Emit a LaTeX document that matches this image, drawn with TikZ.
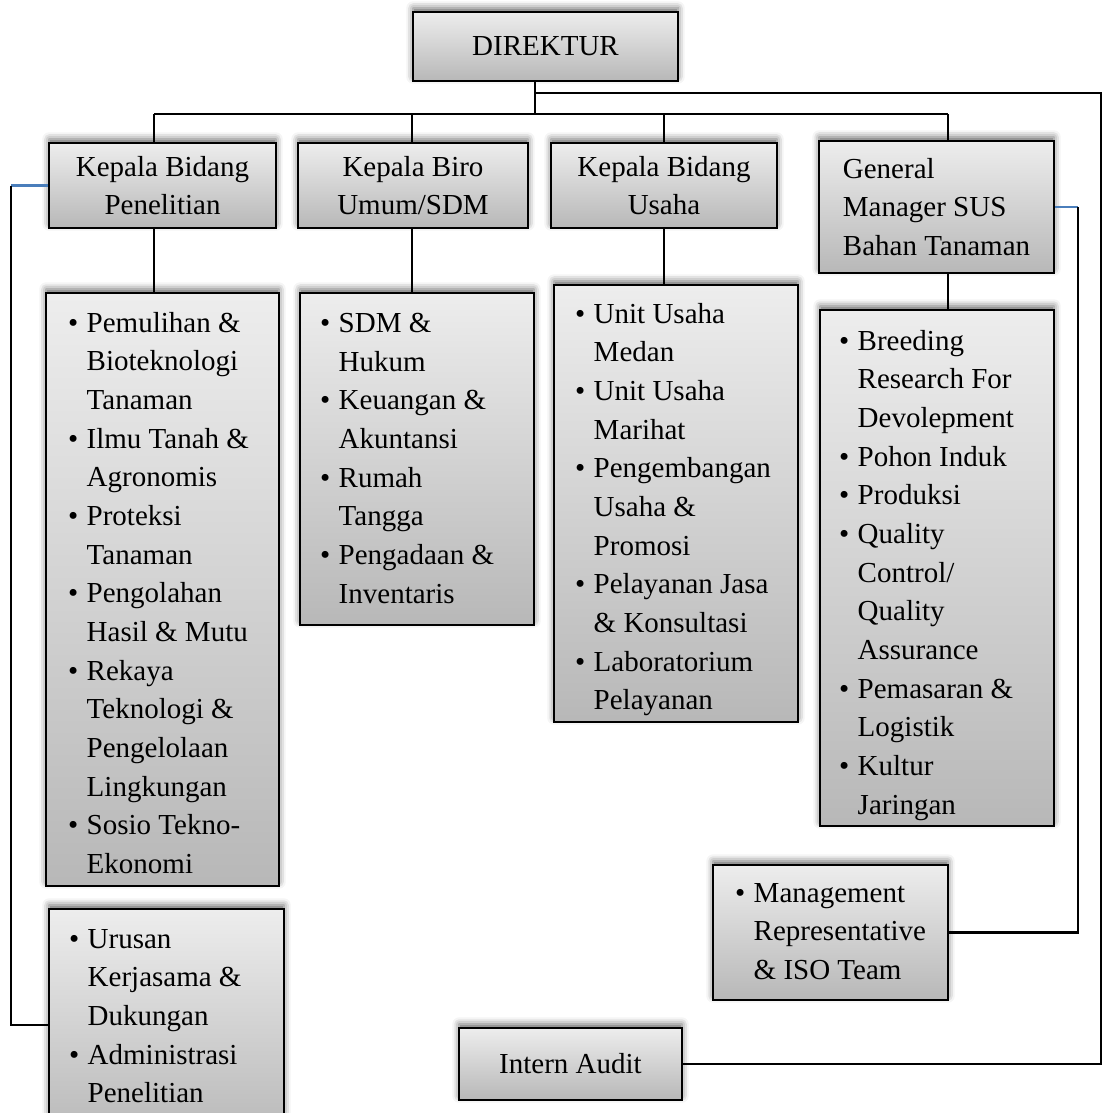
\documentclass[tikz,border=0pt]{standalone}
\usepackage{fontspec}
\setmainfont{Liberation Serif}
\usetikzlibrary{shadows.blur}
\definecolor{linkblue}{RGB}{74,126,187}
\newcommand{\orgfont}{\fontsize{21.75}{29}\selectfont}
\newcommand{\itemdot}{\makebox[14pt][l]{\textbullet}}
\newcommand{\itemind}{\hspace*{14pt}}

\tikzset{every picture/.style={line width=1.6pt}}
\tikzset{
  unit/.style={draw=black, line width=1.5pt, top color=black!7, bottom color=black!28,
    blur shadow={shadow xshift=0pt, shadow yshift=3pt, shadow blur radius=5pt, shadow opacity=60},
    inner sep=0pt, align=center, font=\orgfont},
  items/.style={anchor=north west, inner sep=0pt, align=left, font=\orgfont}
}

\begin{document}
\begin{tikzpicture}[x=0.75pt,y=0.75pt,yscale=-1,xscale=1]
        \useasboundingbox (0,0) rectangle (1103,1113);
        \clip (0,0) rectangle (1103,1113);
        \node[unit, minimum width=198.75pt, minimum height=51.75pt] (dir) at (545.5,46.5) {DIREKTUR};
        \node[unit, minimum width=170.25pt, minimum height=63.75pt] (pen) at (162.5,185.5) {Kepala Bidang\\Penelitian};
        \node[unit, minimum width=172.5pt, minimum height=63.75pt] (biro) at (413,185.5) {Kepala Biro\\Umum/SDM};
        \node[unit, minimum width=169.5pt, minimum height=63.75pt] (usaha) at (664,185.5) {Kepala Bidang\\Usaha};
        \node[unit, minimum width=176.25pt, minimum height=99pt, align=left] (gm) at (936.5,207) {General\\Manager SUS\\Bahan Tanaman};
        \node[unit, minimum width=174.75pt, minimum height=444.75pt] (pen-l) at (162.5,589.5) {};
        \node[unit, minimum width=175.5pt, minimum height=249pt] (biro-l) at (417,459) {};
        \node[unit, minimum width=183pt, minimum height=327.75pt] (usaha-l) at (676,503.5) {};
        \node[unit, minimum width=175.5pt, minimum height=387pt] (gm-l) at (937,568) {};
        \node[unit, minimum width=176.25pt, minimum height=174pt] (urs) at (166.5,1025) {};
        \node[unit, minimum width=176.25pt, minimum height=101.25pt] (mr) at (830.5,932.5) {};
        \node[unit, minimum width=167.25pt, minimum height=54pt] (audit) at (570.5,1064) {Intern Audit};
        \node[items] (pen-t) at ([shift={(22,19)}]pen-l.north west) {\itemdot Pemulihan \&\\ \itemind Bioteknologi\\ \itemind Tanaman\\ \itemdot Ilmu Tanah \&\\ \itemind Agronomis\\ \itemdot Proteksi\\ \itemind Tanaman\\ \itemdot Pengolahan\\ \itemind Hasil \& Mutu\\ \itemdot Rekaya\\ \itemind Teknologi \&\\ \itemind Pengelolaan\\ \itemind Lingkungan\\ \itemdot Sosio Tekno-\\ \itemind Ekonomi};
        \node[items] (biro-t) at ([shift={(20,20)}]biro-l.north west) {\itemdot SDM \&\\ \itemind Hukum\\ \itemdot Keuangan \&\\ \itemind Akuntansi\\ \itemdot Rumah\\ \itemind Tangga\\ \itemdot Pengadaan \&\\ \itemind Inventaris};
        \node[items] (usaha-t) at ([shift={(21,18)}]usaha-l.north west) {\itemdot Unit Usaha\\ \itemind Medan\\ \itemdot Unit Usaha\\ \itemind Marihat\\ \itemdot Pengembangan\\ \itemind Usaha \&\\ \itemind Promosi\\ \itemdot Pelayanan Jasa\\ \itemind \& Konsultasi\\ \itemdot Laboratorium\\ \itemind Pelayanan};
        \node[items] (gm-t) at ([shift={(19,20)}]gm-l.north west) {\itemdot Breeding\\ \itemind Research For\\ \itemind Devolepment\\ \itemdot Pohon Induk\\ \itemdot Produksi\\ \itemdot Quality\\ \itemind Control/\\ \itemind Quality\\ \itemind Assurance\\ \itemdot Pemasaran \&\\ \itemind Logistik\\ \itemdot Kultur\\ \itemind Jaringan};
        \node[items] (urs-t) at ([shift={(20,20)}]urs.north west) {\itemdot Urusan\\ \itemind Kerjasama \&\\ \itemind Dukungan\\ \itemdot Administrasi\\ \itemind Penelitian};
        \node[items] (mr-t) at ([shift={(22,18)}]mr.north west) {\itemdot Management\\ \itemind Representative\\ \itemind \& ISO Team};
        \coordinate (bar) at (535,114);
        \coordinate (rx) at (1101,93);
        \coordinate (lx) at (11,0);
        \coordinate (mx) at (1078,0);
        \draw (dir.south -| bar) -- (bar);
        \draw (bar |- rx) -- (rx) |- (audit.east);
        \foreach \n/\dx in {pen/-8.5, biro/-1, usaha/0, gm/11.5}{
          \coordinate (\n-x) at ([shift={(\dx,0)}]\n.north);
          \draw (\n-x |- bar) -- (\n-x);
          \draw (\n-x |- \n.south) -- (\n-x |- \n-l.north);
        }
        \draw (pen-x |- bar) -- (gm-x |- bar);
        \draw [linkblue] (pen.west) -- (pen.west -| lx);
        \draw (pen.west -| lx) |- (urs.west);
        \draw [linkblue] (gm.east) -- (gm.east -| mx);
        \draw (gm.east -| mx) |- (mr.east);
\end{tikzpicture}
\end{document}
